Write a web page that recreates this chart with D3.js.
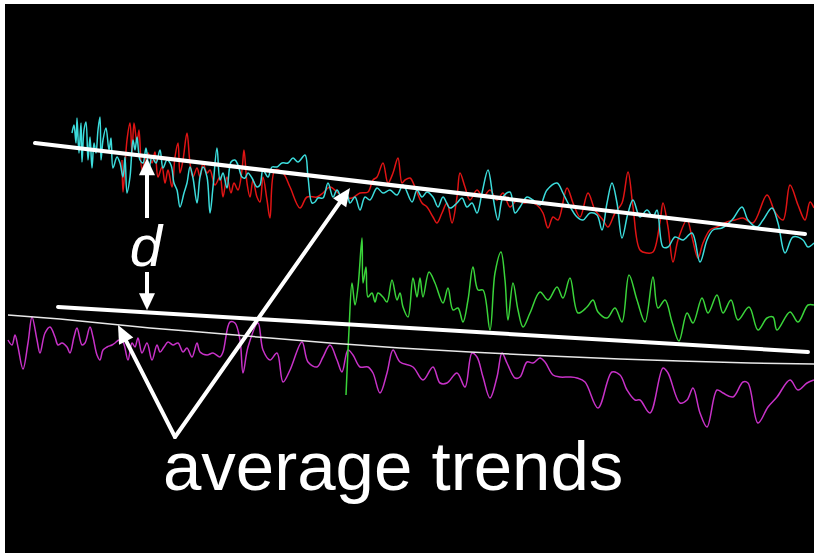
<!DOCTYPE html>
<html>
<head>
<meta charset="utf-8">
<script src="https://cdn.jsdelivr.net/npm/d3@7"></script>
<style>
  html, body { margin: 0; padding: 0; background: #ffffff; }
  svg { display: block; }
</style>
</head>
<body>
<script>
// Signal traces: [time, value] samples
const cyanSeries = [
  [72,417],[74,425],[76,407],[77,432],[79,397],[81,427],[82,388],[84,420],[86,428],[88,390],
  [90,413],[92,382],[94,407],[96,397],[98,420],[100,433],[101,390],[103,410],[106,422],[109,400],
  [111,412],[113,382],[117,393],[120,387],[123,373],[125,393],[127,357],[130,373],[133,410],[135,400],
  [137,413],[140,390],[143,387],[146,402],[149,382],[152,393],[156,387],[160,400],[163,382],[167,390],
  [171,385],[174,367],[177,360],[180,343],[184,357],[187,367],[190,383],[193,372],[197,347],[200,373],
  [203,383],[207,373],[210,337],[213,363],[217,402],[220,370],[223,377],[227,362],[231,388],[235,390],
  [238,385],[242,373],[245,372],[248,377],[252,372],[257,363],[260,365],[263,380],[268,373],[272,383],
  [277,383],[282,387],[288,387],[293,392],[298,388],[305,395],[308,373],[312,347],[315,348],[318,352],
  [323,352],[328,367],[333,353],[337,360],[342,352],[347,355],[350,347],[355,353],[360,340],[365,353],
  [370,350],[377,362],[383,357],[390,360],[397,355],[403,365],[412,348],[417,360],[422,353],[427,358],
  [433,353],[438,343],[443,353],[450,342],[457,347],[462,352],[467,343],[472,347],[477,337],[482,357],
  [488,380],[493,353],[498,330],[503,353],[510,358],[515,337],[520,343],[527,353],[533,350],[540,345],
  [547,360],[557,367],[563,357],[568,347],[577,333],[583,330],[590,337],[597,335],[602,320],[607,347],
  [612,367],[617,347],[622,312],[628,337],[633,350],[640,333],[647,340],[653,333],[657,340],[663,303],
  [668,303],[675,313],[683,310],[692,317],[700,288],[707,310],[713,320],[722,322],[732,330],[742,343],
  [748,330],[757,323],[763,330],[772,342],[778,327],[785,297],[793,313],[803,310],[808,303],[814,307]
];

const redSeries = [
  [122,390],[123,358],[127,410],[130,427],[132,397],[134,427],[137,407],[139,420],[142,380],[145,390],
  [148,397],[152,387],[155,398],[158,373],[162,383],[165,367],[168,380],[172,363],[175,393],[178,407],
  [180,377],[183,390],[187,417],[190,387],[193,373],[197,382],[200,373],[203,387],[207,377],[210,380],
  [215,365],[220,373],[223,353],[227,373],[231,357],[234,367],[238,360],[242,380],[244,400],[247,367],
  [250,353],[253,370],[257,353],[260,348],[263,373],[267,350],[270,332],[275,380],[283,377],[290,363],
  [300,342],[307,353],[317,353],[323,357],[330,363],[337,358],[343,353],[352,352],[360,357],[368,358],
  [373,370],[377,373],[383,387],[388,367],[393,377],[398,392],[402,367],[405,370],[410,372],[415,363],
  [422,347],[427,343],[433,333],[437,327],[442,337],[447,347],[452,327],[457,353],[460,377],[465,363],
  [470,350],[477,360],[483,353],[490,360],[497,350],[503,357],[510,343],[517,350],[523,347],[530,348],
  [537,345],[543,337],[548,322],[553,333],[558,330],[567,362],[573,347],[580,333],[588,357],[595,340],
  [603,330],[608,323],[615,337],[622,347],[628,378],[633,343],[640,300],[647,297],[653,298],[660,328],
  [663,347],[668,323],[673,288],[678,310],[687,330],[692,313],[698,292],[703,307],[710,320],[717,323],
  [727,328],[735,330],[743,332],[753,327],[767,355],[775,338],[783,330],[790,365],[798,345],[805,330],
  [810,348],[814,342]
];

const greenSeries = [
  [346,155],[349,220],[352,267],[355,245],[358,263],[362,312],[363,267],[366,283],[368,253],[372,257],
  [375,248],[378,257],[383,253],[387,248],[392,270],[397,250],[400,257],[403,243],[408,233],[413,272],
  [417,253],[420,272],[423,253],[429,278],[435,267],[443,247],[448,262],[453,240],[458,242],[463,228],
  [468,250],[473,283],[478,260],[483,260],[490,220],[495,277],[501,298],[505,270],[508,230],[513,267],
  [518,240],[523,223],[530,237],[540,258],[548,250],[557,263],[563,252],[570,272],[578,237],[587,243],
  [593,250],[598,238],[607,232],[615,242],[622,228],[629,275],[637,250],[645,228],[653,273],[658,242],
  [665,250],[672,228],[679,209],[687,237],[693,227],[702,252],[708,237],[717,255],[723,237],[731,250],
  [738,230],[749,243],[758,220],[767,232],[773,233],[777,220],[790,238],[798,228],[808,245],[814,245]
];

const magentaSeries = [
  [8,210],[12,205],[15,215],[18,203],[23,181],[28,207],[32,233],[37,210],[40,197],[45,217],
  [50,223],[55,213],[58,205],[62,207],[67,203],[70,197],[74,213],[77,222],[82,205],[85,207],
  [90,223],[93,213],[97,195],[100,190],[103,200],[107,203],[112,205],[115,207],[119,210],[123,208],
  [128,190],[132,207],[135,203],[138,212],[142,197],[147,207],[152,190],[157,205],[160,198],[164,203],
  [168,208],[173,205],[178,207],[183,198],[187,202],[192,193],[197,207],[200,198],[207,195],[213,197],
  [220,193],[223,198],[230,228],[235,227],[240,210],[243,177],[248,203],[258,227],[263,200],[270,190],
  [277,197],[283,168],[290,180],[302,208],[308,188],[317,183],[323,193],[330,205],[337,190],[342,178],
  [348,200],[353,195],[360,183],[368,183],[373,177],[380,157],[387,177],[393,200],[400,188],[413,183],
  [423,170],[433,183],[440,167],[447,167],[457,177],[465,163],[472,197],[477,193],[483,173],[490,152],
  [497,173],[502,197],[507,187],[515,172],[520,173],[527,188],[533,187],[540,192],[545,188],[553,175],
  [560,173],[570,173],[577,172],[585,168],[598,142],[612,178],[620,175],[627,160],[635,150],[640,150],
  [650,137],[663,182],[668,177],[680,147],[687,150],[693,162],[700,137],[707,123],[717,160],[723,157],
  [733,153],[743,168],[748,167],[758,127],[768,143],[777,153],[790,170],[798,160],[807,167],[814,170]
];

// Running average of the lower trace
const lowerRunningMean = [
  [8,235],[60,231],[100,227],[150,222],[200,218],[270,212],[330,207],[400,202],[470,198],
  [550,194],[620,191],[680,189],[750,187],[814,186]
];

// Fitted average trends (start and end)
const upperTrend = [[35,407],[805,316]];
const lowerTrend = [[58,243],[808,198]];

const labelGap = "d";
const labelTrends = "average trends";

const W = 814, H = 553;

const svg = d3.select("body").append("svg")
  .attr("width", W).attr("height", H);

// dark plotting panel
svg.append("rect")
  .attr("x", 5).attr("y", 4)
  .attr("width", W - 5).attr("height", H - 4)
  .attr("fill", "#000");

const x = d3.scaleLinear().domain([0, 814]).range([0, 814]);
const y = d3.scaleLinear().domain([0, 550]).range([550, 0]);

const line = d3.line().x(d => x(d[0])).y(d => y(d[1]));
const smoothLine = d3.line().x(d => x(d[0])).y(d => y(d[1]))
  .curve(d3.curveCatmullRom.alpha(0.5));

const traces = [
  { data: magentaSeries, color: "#c832c8" },
  { data: greenSeries,   color: "#3ad43a" },
  { data: redSeries,     color: "#e01414" },
  { data: cyanSeries,    color: "#3cdcdc" }
];

svg.append("g").selectAll("path")
  .data(traces)
  .join("path")
  .attr("d", d => smoothLine(d.data))
  .attr("fill", "none")
  .attr("stroke", d => d.color)
  .attr("stroke-width", 1.5)
  .attr("stroke-linejoin", "round");

// thin running mean
svg.append("path")
  .attr("d", line(lowerRunningMean))
  .attr("fill", "none")
  .attr("stroke", "#e8e8e8")
  .attr("stroke-width", 1.5);

// thick average trend lines
svg.append("g").selectAll("path")
  .data([upperTrend, lowerTrend])
  .join("path")
  .attr("d", line)
  .attr("fill", "none")
  .attr("stroke", "#fff")
  .attr("stroke-width", 4)
  .attr("stroke-linecap", "round");

// helpers for annotation arrows
function trendAt(tr, t) {
  const [a, b] = tr;
  return a[1] + (b[1] - a[1]) * (t - a[0]) / (b[0] - a[0]);
}
function arrowHead(g, fromPx, tipPx, len, half) {
  const dx = tipPx[0] - fromPx[0], dy = tipPx[1] - fromPx[1];
  const L = Math.hypot(dx, dy), ux = dx / L, uy = dy / L;
  const bx = tipPx[0] - ux * len, by = tipPx[1] - uy * len;
  g.append("polygon")
    .attr("points", [
      [tipPx[0], tipPx[1]],
      [bx - uy * half, by + ux * half],
      [bx + uy * half, by - ux * half]
    ].map(p => p.join(",")).join(" "))
    .attr("fill", "#fff");
}

const ann = svg.append("g");

// gap arrow between the two trends
const gapT = 147;
const topTip = [x(gapT), y(trendAt(upperTrend, gapT)) + 2];
const botTip = [x(gapT), y(trendAt(lowerTrend, gapT)) - 2];
ann.append("line")
  .attr("x1", topTip[0]).attr("y1", topTip[1] + 10)
  .attr("x2", topTip[0]).attr("y2", 218)
  .attr("stroke", "#fff").attr("stroke-width", 4);
ann.append("line")
  .attr("x1", botTip[0]).attr("y1", 272)
  .attr("x2", botTip[0]).attr("y2", botTip[1] - 10)
  .attr("stroke", "#fff").attr("stroke-width", 4);
arrowHead(ann, [topTip[0], topTip[1] + 40], topTip, 17, 8);
arrowHead(ann, [botTip[0], botTip[1] - 40], botTip, 17, 8);

ann.append("text")
  .attr("x", 146).attr("y", 266)
  .attr("text-anchor", "middle")
  .attr("font-family", "'Liberation Sans', Arial, sans-serif")
  .attr("font-style", "italic")
  .attr("font-size", 58)
  .attr("fill", "#fff")
  .text(labelGap);

// pointers from the label to each trend
const apex = [x(175), y(113)];
const pointerTips = [[x(118), y(225)], [x(350), y(362)]];
pointerTips.forEach(tip => {
  const dx = tip[0] - apex[0], dy = tip[1] - apex[1];
  const L = Math.hypot(dx, dy);
  ann.append("line")
    .attr("x1", apex[0]).attr("y1", apex[1])
    .attr("x2", tip[0] - dx / L * 12).attr("y2", tip[1] - dy / L * 12)
    .attr("stroke", "#fff").attr("stroke-width", 4)
    .attr("stroke-linecap", "round");
  arrowHead(ann, apex, tip, 18, 8);
});

ann.append("text")
  .attr("x", 163).attr("y", 490)
  .attr("font-family", "'Liberation Sans', Arial, sans-serif")
  .attr("font-size", 69)
  .attr("fill", "#fff")
  .text(labelTrends);
</script>
</body>
</html>
